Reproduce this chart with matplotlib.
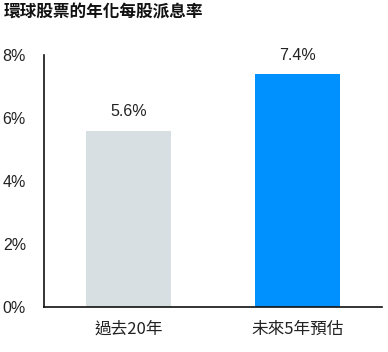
import matplotlib
matplotlib.use("Agg")
import matplotlib.pyplot as plt

categories = ["過去20年", "未來5年預估"]
values = [5.6, 7.4]
value_labels = ["5.6%", "7.4%"]
yticks = [0, 2, 4, 6, 8]
ytick_labels = ["0%", "2%", "4%", "6%", "8%"]
colors = ["#d7dfe2", "#0091ff"]
title = "環球股票的年化每股派息率"

plt.rcParams['font.family'] = ['Liberation Sans', 'Noto Sans CJK TC', 'DejaVu Sans']

fig = plt.figure(figsize=(3.88, 3.52), dpi=100)
ax = fig.add_axes([44/388, 45/352, 338/388, 252/352])
x = list(range(len(categories)))
bars = ax.bar(x, values, width=0.5, color=colors)
ax.set_xlim(-0.5, 1.5)
ax.set_ylim(0, 8)
ax.set_yticks(yticks)
ax.set_yticklabels(ytick_labels, fontsize=11.5, color="#222222")
ax.set_xticks(x)
ax.set_xticklabels(categories, fontsize=12, color="#222222",
                   fontfamily=['Noto Sans CJK TC', 'DejaVu Sans'])
ax.tick_params(axis='both', length=0)
ax.tick_params(axis='y', pad=13)
ax.tick_params(axis='x', pad=10)
for s in ['top', 'right']:
    ax.spines[s].set_visible(False)
for s in ['left', 'bottom']:
    ax.spines[s].set_linewidth(1.2)
    ax.spines[s].set_color("#111111")
for xi, v, lab in zip(x, values, value_labels):
    ax.annotate(lab, (xi, v), xytext=(0, 8), textcoords='offset points',
                ha='center', va='bottom', fontsize=11.5, color="#222222")
fig.text(4/388, 1 - 12/352, title, fontsize=12, fontweight='bold', va='center', ha='left',
         fontfamily=['Noto Sans CJK TC', 'DejaVu Sans'], color="#111111")
fig.savefig("out.png", dpi=100)
